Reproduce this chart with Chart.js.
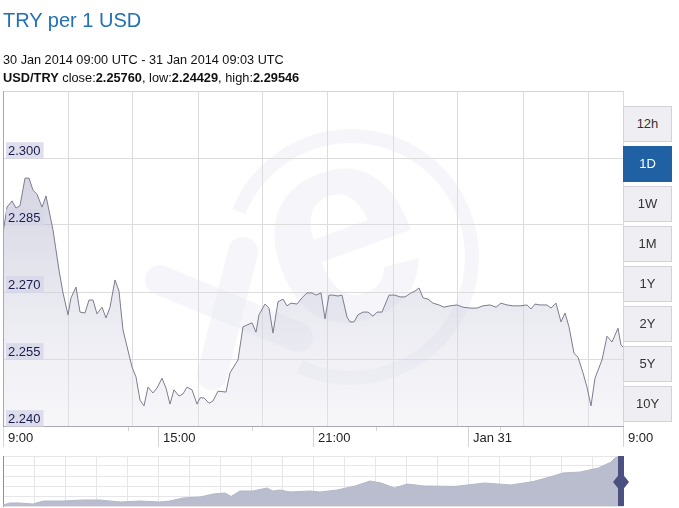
<!DOCTYPE html>
<html>
<head>
<meta charset="utf-8">
<script src="https://cdn.jsdelivr.net/npm/chart.js@4.4.1/dist/chart.umd.min.js"></script>
<style>
  html, body { margin: 0; padding: 0; background: #fff; }
  body { width: 679px; height: 508px; position: relative; overflow: hidden; font-family: Arial, "Liberation Sans", sans-serif; }
  canvas { position: absolute; left: 0; }
  #main { top: 0; }
  #nav { top: 450px; }
  .txt { position: absolute; left: 3px; white-space: nowrap; line-height: 1; z-index: 2; }
  #title { top: 10px; font-size: 20px; color: #2370b6; }
  #range { top: 54px; font-size: 12.7px; color: #111; }
  #stats { top: 72px; font-size: 12.8px; color: #111; }
  .btn { position: absolute; left: 623px; width: 47px; height: 34px; border: 1px solid #d2d2da; background: #efeff3;
         color: #333; font-size: 13px; text-align: center; line-height: 34px; z-index: 2; }
  .btn.on { background: #1f61a3; border-color: #1f61a3; color: #fff; }
</style>
</head>
<body>
<canvas id="main" width="679" height="452"></canvas>
<canvas id="nav" width="679" height="58"></canvas>
<div class="txt" id="title">TRY per 1 USD</div>
<div class="txt" id="range">30 Jan 2014 09:00 UTC - 31 Jan 2014 09:03 UTC</div>
<div class="txt" id="stats"><b>USD/TRY</b> close:<b>2.25760</b>, low:<b>2.24429</b>, high:<b>2.29546</b></div>
<div id="buttons"></div>
<script>
// hours since 30 Jan 09:00
const hours = [0, 0.155, 0.348, 0.503, 0.658, 0.852, 1.006, 1.161, 1.316, 1.51, 1.665, 1.935, 2.168, 2.323, 2.516,
  2.632, 2.826, 2.981, 3.174, 3.329, 3.484, 3.639, 3.832, 3.987, 4.142, 4.335, 4.49, 4.645, 4.994, 5.148, 5.303,
  5.458, 5.613, 5.806, 5.961, 6.155, 6.31, 6.465, 6.619, 6.813, 6.968, 7.123, 7.316, 7.51, 7.626, 7.781, 7.974,
  8.129, 8.323, 8.632, 8.787, 9.097, 9.29, 9.639, 9.794, 9.91, 10.142, 10.297, 10.452, 10.645, 10.839, 10.994,
  11.148, 11.381, 11.574, 11.768, 11.961, 12.116, 12.31, 12.465, 12.619, 12.774, 12.968, 13.123, 13.316, 13.432,
  13.587, 13.742, 13.935, 14.129, 14.323, 14.477, 14.671, 14.942, 15.174, 15.368, 15.561, 15.794, 15.948, 16.103,
  16.258, 16.452, 16.645, 16.877, 17.071, 17.303, 17.574, 17.806, 18.077, 18.348, 18.581, 18.852, 19.084, 19.277,
  19.51, 19.742, 20.013, 20.284, 20.439, 20.594, 20.787, 21.058, 21.213, 21.406, 21.6, 21.755, 21.91, 22.103,
  22.258, 22.452, 22.606, 22.761, 22.916, 23.187, 23.381, 23.574, 23.806, 23.923, 24];
const rates = [2.2832, 2.2890, 2.2904, 2.2888, 2.2893, 2.2955, 2.2955, 2.2928, 2.2919, 2.2890, 2.2915, 2.2839, 2.2749,
  2.2698, 2.2649, 2.2687, 2.2711, 2.2655, 2.2653, 2.2682, 2.2682, 2.2651, 2.2666, 2.2642, 2.2666, 2.2727, 2.2702,
  2.2615, 2.2532, 2.2510, 2.2458, 2.2445, 2.2487, 2.2474, 2.2485, 2.2507, 2.2485, 2.2449, 2.2481, 2.2467, 2.2472,
  2.2487, 2.2481, 2.2449, 2.2463, 2.2463, 2.2451, 2.2456, 2.2478, 2.2476, 2.2519, 2.2548, 2.2622, 2.2631, 2.2610,
  2.2649, 2.2673, 2.2664, 2.2608, 2.2678, 2.2684, 2.2669, 2.2675, 2.2673, 2.2687, 2.2698, 2.2698, 2.2693, 2.2698,
  2.2640, 2.2693, 2.2693, 2.2691, 2.2693, 2.2644, 2.2633, 2.2633, 2.2649, 2.2655, 2.2655, 2.2646, 2.2655, 2.2655,
  2.2693, 2.2693, 2.2689, 2.2689, 2.2698, 2.2702, 2.2709, 2.2687, 2.2684, 2.2675, 2.2671, 2.2666, 2.2669, 2.2671,
  2.2666, 2.2664, 2.2664, 2.2669, 2.2671, 2.2666, 2.2675, 2.2671, 2.2669, 2.2669, 2.2671, 2.2662, 2.2673, 2.2671,
  2.2671, 2.2664, 2.2675, 2.2633, 2.2653, 2.2622, 2.2563, 2.2554, 2.2519, 2.2487, 2.2445, 2.2507, 2.2548, 2.2601,
  2.2588, 2.2619, 2.2581, 2.2577];

const yTicks = [2.240, 2.255, 2.270, 2.285, 2.300];
const xLabelHours = [0, 6, 12, 18, 24];
const xLabels = ['9:00', '15:00', '21:00', 'Jan 31', '9:00'];
const xMinorHours = [4.84, 9.64, 14.44, 19.25];
const xGridHours = [0, 2.52, 5.03, 7.55, 10.06, 12.58, 15.1, 17.61, 20.13, 22.65, 24];

// navigator (position along the range, 0-100)
const navPos = [0, 1.1, 2.7, 4.8, 6.5, 9.7, 12.9, 15.6, 18.9, 22.1, 25.3, 26.9, 29.0, 31.8, 33.9, 35.8, 36.8, 38.2,
  40.3, 42.6, 43.5, 44.7, 46.3, 49.5, 51.1, 53.9, 56.8, 59.2, 61.0, 63.1, 65.2, 67.9, 72.9, 77.7, 81.9, 85.5, 88.2,
  90.3, 93.1, 96.0, 98.1, 98.7, 99.2, 100];
const navRates = [1.125, 1.175, 1.175, 1.15, 1.225, 1.225, 1.25, 1.25, 1.20, 1.225, 1.20, 1.225, 1.30, 1.325, 1.40,
  1.425, 1.34, 1.475, 1.475, 1.55, 1.475, 1.50, 1.45, 1.475, 1.45, 1.50, 1.60, 1.725, 1.675, 1.55, 1.65, 1.60,
  1.59, 1.675, 1.625, 1.71, 1.825, 1.925, 1.95, 2.05, 2.20, 2.30, 2.325, 2.30];
const navYTicks = [1.10, 1.35, 1.60, 1.85, 2.10, 2.35];

const ranges = ['12h', '1D', '1W', '1M', '1Y', '2Y', '5Y', '10Y'];
const activeRange = '1D';

// range buttons
const btnBox = document.getElementById('buttons');
ranges.forEach((r, i) => {
    const b = document.createElement('div');
    b.className = 'btn' + (r === activeRange ? ' on' : '');
    b.style.top = (106 + i * 40) + 'px';
    b.textContent = r;
    btnBox.appendChild(b);
});

const setTicks = (vals) => (scale) => { scale.ticks = vals.map(v => ({ value: v })); };
const font = { family: 'Arial, "Liberation Sans", sans-serif', size: 13 };

// faint "xe" logo behind the plot
const watermark = {
    id: 'watermark',
    beforeDraw(chart) {
        const c = chart.ctx;
        c.save();
        c.strokeStyle = 'rgba(222,222,234,0.26)';
        c.fillStyle = 'rgba(222,222,234,0.26)';
        c.lineWidth = 14;
        c.beginPath();
        c.arc(351, 257, 121, 202 * Math.PI / 180, 475 * Math.PI / 180);
        c.stroke();
        c.lineCap = 'round';
        c.lineWidth = 30;
        c.beginPath(); c.moveTo(160, 280); c.lineTo(298, 337); c.stroke();
        c.beginPath(); c.moveTo(243, 252); c.lineTo(212, 375); c.stroke();
        c.translate(350, 262);
        c.rotate(-0.35);
        c.font = 'bold 280px Arial, "Liberation Sans", sans-serif';
        c.textAlign = 'center';
        c.textBaseline = 'middle';
        c.fillText('e', 0, -20);
        c.restore();
    }
};

new Chart(document.getElementById('main'), {
    type: 'line',
    data: {
        datasets: [{
            data: hours.map((h, i) => ({ x: h, y: rates[i] })),
            borderColor: '#7c7c8e',
            borderWidth: 1,
            pointRadius: 0,
            tension: 0,
            fill: 'start',
            backgroundColor: (ctx) => {
                const a = ctx.chart.chartArea;
                if (!a) return 'rgba(200,200,220,0.5)';
                const g = ctx.chart.ctx.createLinearGradient(0, a.top, 0, a.bottom);
                g.addColorStop(0, 'rgba(160,160,192,0.62)');
                g.addColorStop(1, 'rgba(232,232,240,0.35)');
                return g;
            }
        }]
    },
    options: {
        responsive: false,
        animation: false,
        events: [],
        layout: { padding: { top: 91, left: 3, right: 56, bottom: 0 } },
        plugins: { legend: { display: false }, tooltip: { enabled: false } },
        scales: {
            x: {
                type: 'linear', position: 'bottom', min: 0, max: 24,
                afterBuildTicks: setTicks(xLabelHours),
                afterFit: (s) => { s.height = 26; },
                grid: { drawOnChartArea: false, tickLength: 21, tickColor: '#d4d4d8' },
                border: { color: '#a8a8b0' },
                ticks: { autoSkip: false, maxRotation: 0, align: 'start', labelOffset: 5, padding: -16,
                         color: '#222', font, callback: (v, i) => xLabels[i] }
            },
            xmin: {
                type: 'linear', axis: 'x', position: { y: 2.240 }, min: 0, max: 24,
                afterBuildTicks: setTicks(xMinorHours),
                grid: { drawOnChartArea: false, tickLength: 5, tickColor: '#d4d4d8' },
                border: { display: false },
                ticks: { display: false }
            },
            xg: {
                type: 'linear', axis: 'x', position: 'top', min: 0, max: 24,
                afterBuildTicks: setTicks(xGridHours),
                afterFit: (s) => { s.height = 0; },
                grid: { color: '#dcdcdc', drawTicks: false },
                border: { color: '#d6d6d6' },
                ticks: { display: false }
            },
            y: {
                type: 'linear', position: 'left', min: 2.240, max: 2.315,
                afterBuildTicks: setTicks(yTicks),
                afterFit: (s) => { s.width = 0; },
                grid: { color: '#dcdcdc', drawTicks: false },
                border: { color: '#a8a8b0', z: 1 },
                ticks: { z: 1, mirror: true, padding: 5, labelOffset: -7, color: '#1b1b4b', font,
                         showLabelBackdrop: true, backdropColor: 'rgba(214,214,232,0.8)',
                         backdropPadding: { left: 2, right: 3, top: 1, bottom: 0 },
                         callback: (v) => v.toFixed(3) }
            }
        }
    },
    plugins: [watermark]
});

// slider handle on the navigator
const handle = {
    id: 'handle',
    afterDraw(chart) {
        const c = chart.ctx, a = chart.chartArea;
        const x = a.right - 2, my = (a.top + a.bottom) / 2 + 1;
        c.save();
        c.fillStyle = '#4a5180';
        c.fillRect(x - 3, a.top, 6, a.bottom - a.top);
        c.beginPath();
        c.moveTo(x, my - 10); c.lineTo(x + 8, my); c.lineTo(x, my + 10); c.lineTo(x - 8, my);
        c.closePath();
        c.fill();
        c.restore();
    }
};

new Chart(document.getElementById('nav'), {
    type: 'line',
    data: {
        datasets: [{
            data: navPos.map((p, i) => ({ x: p, y: navRates[i] })),
            borderColor: '#b3b7c8',
            borderWidth: 1,
            pointRadius: 0,
            tension: 0,
            fill: 'start',
            backgroundColor: '#b9bdcd'
        }]
    },
    options: {
        responsive: false,
        animation: false,
        events: [],
        layout: { padding: { top: 6, left: 3, right: 56, bottom: 2 } },
        plugins: { legend: { display: false }, tooltip: { enabled: false } },
        scales: {
            x: {
                type: 'linear', min: 0, max: 100,
                ticks: { display: false, stepSize: 5 },
                afterFit: (s) => { s.height = 0; },
                grid: { color: '#e6e6ea', drawTicks: false },
                border: { display: false }
            },
            y: {
                type: 'linear', min: 1.10, max: 2.35,
                afterBuildTicks: setTicks(navYTicks),
                afterFit: (s) => { s.width = 0; },
                ticks: { display: false },
                grid: { color: '#e6e6ea', drawTicks: false },
                border: { color: '#8e8e96' }
            }
        }
    },
    plugins: [handle]
});
</script>
</body>
</html>
